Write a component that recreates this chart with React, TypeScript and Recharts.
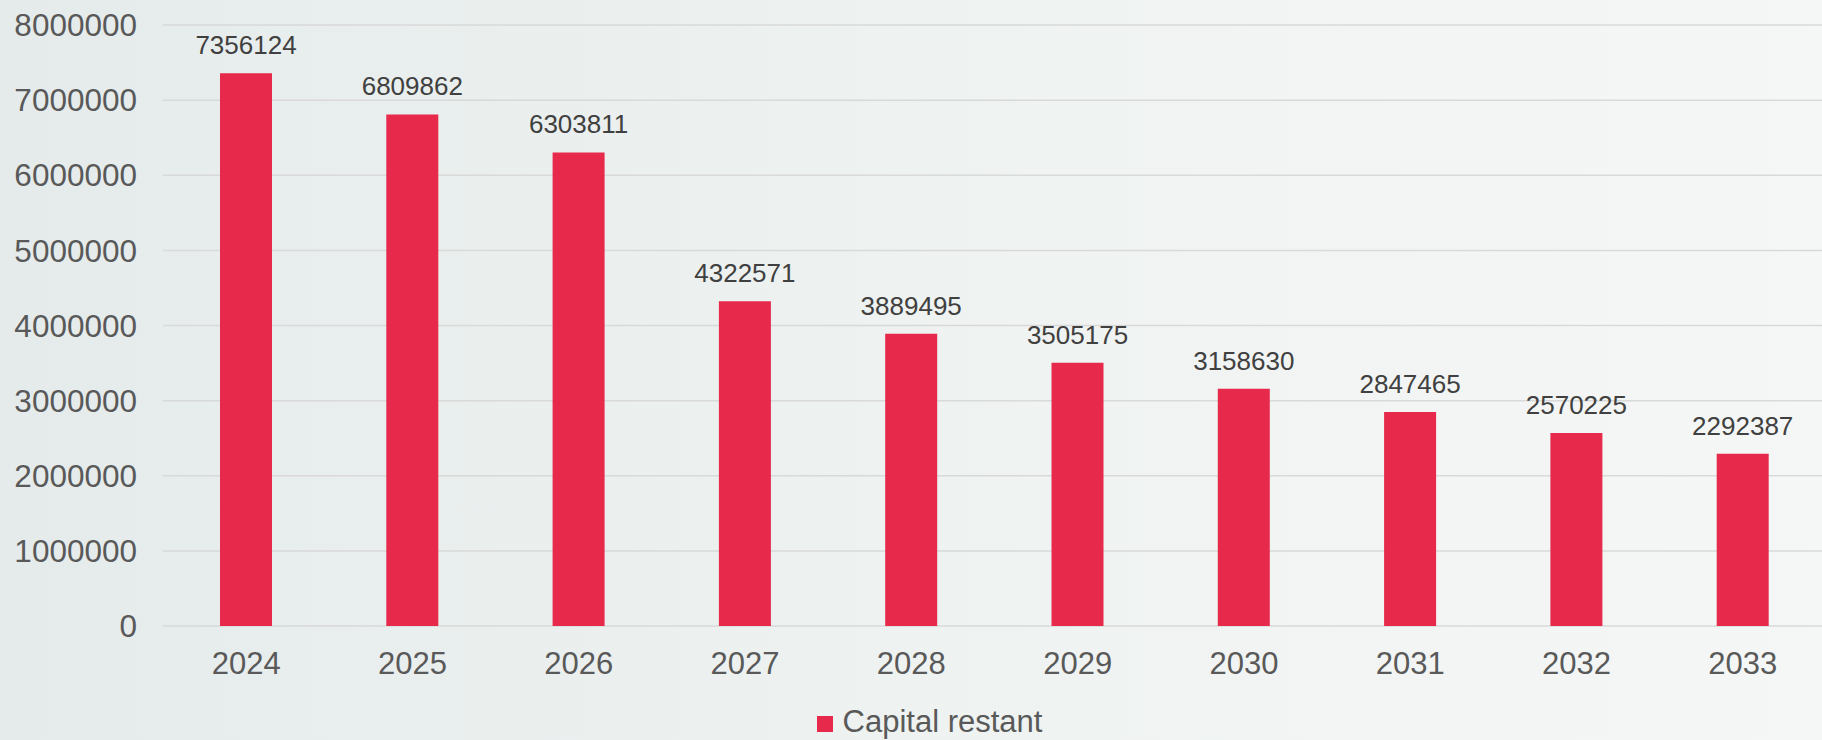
import React from 'react';
import { BarChart, Bar, XAxis, YAxis, CartesianGrid, Legend, LabelList } from 'recharts';

const years = ['2024', '2025', '2026', '2027', '2028', '2029', '2030', '2031', '2032', '2033'];
const capitalRestant = [7356124, 6809862, 6303811, 4322571, 3889495, 3505175, 3158630, 2847465, 2570225, 2292387];
const yTicks = [0, 1000000, 2000000, 3000000, 4000000, 5000000, 6000000, 7000000, 8000000];
const seriesName = 'Capital restant';

const data = years.map((y, i) => ({ year: y, value: capitalRestant[i] }));

const FONT = '"Liberation Sans", Arial, sans-serif';
const BAR_COLOR = '#E7294B';

const LegendContent = () => (
  <div
    style={{
      height: 54,
      display: 'flex',
      justifyContent: 'center',
      alignItems: 'flex-end',
      paddingLeft: 33,
      boxSizing: 'border-box',
    }}
  >
    <div style={{ display: 'flex', alignItems: 'center', height: 36 }}>
      <div style={{ width: 16, height: 16, background: BAR_COLOR, marginRight: 10, position: 'relative', top: 2 }} />
      <span style={{ fontFamily: FONT, fontSize: 31, lineHeight: '36px', color: '#595959' }}>{seriesName}</span>
    </div>
  </div>
);

export default function App() {
  return (
    <div
      style={{
        position: 'fixed',
        left: 0,
        top: 0,
        width: 1822,
        height: 740,
        overflow: 'hidden',
        background: 'linear-gradient(90deg, #e5ebeb 0%, #eef2f1 50%, #f5f7f6 100%)',
      }}
    >
      <BarChart
        width={1822}
        height={740}
        data={data}
        margin={{ top: 25, right: -4, left: 0, bottom: 0 }}
        barCategoryGap={0}
      >
        <CartesianGrid vertical={false} stroke="#d9d9d9" strokeWidth={1.5} />
        <XAxis
          dataKey="year"
          axisLine={false}
          tickLine={false}
          tickSize={0}
          tickMargin={26}
          height={60}
          interval={0}
          tick={{ fontFamily: FONT, fontSize: 31, fill: '#595959' }}
        />
        <YAxis
          domain={[0, 8000000]}
          ticks={yTicks}
          axisLine={false}
          tickLine={false}
          tickSize={0}
          tickMargin={26}
          width={163}
          interval={0}
          tick={{ fontFamily: FONT, fontSize: 31.5, fill: '#595959' }}
        />
        <Legend verticalAlign="bottom" height={54} content={<LegendContent />} />
        <Bar dataKey="value" name={seriesName} fill={BAR_COLOR} barSize={52} isAnimationActive={false}>
          <LabelList
            dataKey="value"
            position="top"
            offset={19}
            style={{ fontFamily: FONT, fontSize: 26, fill: '#404040' }}
          />
        </Bar>
      </BarChart>
    </div>
  );
}
